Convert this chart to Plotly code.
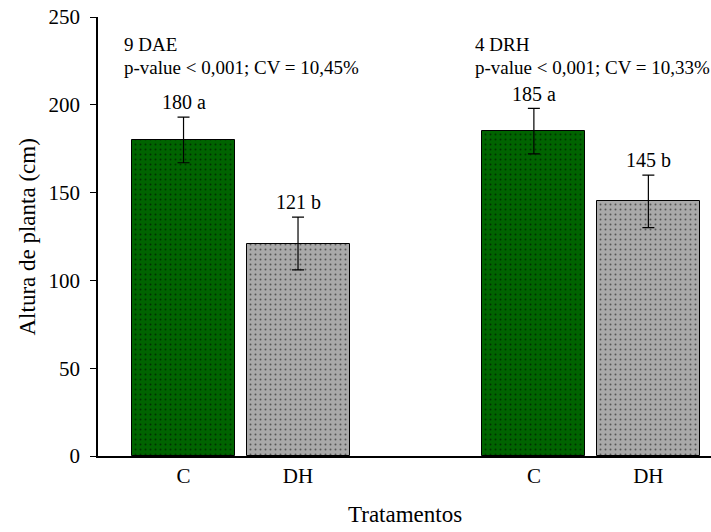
import plotly.graph_objects as go

# Plant height by treatment, two evaluation dates
groups = ["9 DAE", "4 DRH"]
treatments = ["C", "DH"]
heights = [180, 121, 185, 145]          # C, DH for each date
errors = [13, 15, 13, 15]
letters = ["a", "b", "a", "b"]
stats = ["p-value < 0,001; CV = 10,45%", "p-value < 0,001; CV = 10,33%"]
y_ticks = [0, 50, 100, 150, 200, 250]

fill_colors = ["#006400", "#a9a9a9"]
font_family = "Liberation Serif, Times New Roman, serif"

# x positions: two bars per group, wider gap between groups
group_gap = 2.06
xpos = []
for g in range(len(groups)):
    for t in range(len(treatments)):
        xpos.append(1 + g * (len(treatments) - 1 + group_gap) + t)

fig = go.Figure()
for t, name in enumerate(treatments):
    idx = [g * len(treatments) + t for g in range(len(groups))]
    fig.add_trace(go.Bar(
        x=[xpos[i] for i in idx],
        y=[heights[i] for i in idx],
        width=0.9,
        marker=dict(
            color=fill_colors[t],
            line=dict(color="black", width=1),
            pattern=dict(shape=".", fgcolor="black", bgcolor=fill_colors[t],
                         size=5, solidity=0.12, fillmode="overlay"),
        ),
        error_y=dict(type="data", array=[errors[i] for i in idx],
                     color="black", thickness=1.2, width=6),
        showlegend=False,
        name=name,
    ))

annotations = []
# value labels above the error bars
for i, (h, e, l) in enumerate(zip(heights, errors, letters)):
    annotations.append(dict(
        x=xpos[i], y=h + e + 1, text=f"{h} {l}", showarrow=False,
        xanchor="center", yanchor="bottom",
        font=dict(family=font_family, size=20, color="black"),
    ))
# group headers with statistics (two separate lines)
for g, (name, s) in enumerate(zip(groups, stats)):
    x0 = xpos[g * len(treatments)] - 0.535
    for text, yv in ((name, 234.6), (s, 221.5)):
        annotations.append(dict(
            x=x0, y=yv, text=text, showarrow=False,
            xanchor="left", yanchor="middle", align="left",
            font=dict(family=font_family, size=19, color="black"),
        ))
# axis titles
annotations.append(dict(
    x=0.5, xref="paper", y=-0.134, yref="paper", text="Tratamentos",
    showarrow=False, xanchor="center", yanchor="middle",
    font=dict(family=font_family, size=23, color="black"),
))
annotations.append(dict(
    x=-0.1142, xref="paper", y=0.5, yref="paper", text="Altura de planta (cm)",
    textangle=-90, showarrow=False, xanchor="center", yanchor="middle",
    font=dict(family=font_family, size=23, color="black"),
))

fig.update_layout(
    width=711, height=532,
    margin=dict(l=98, r=0, t=17, b=76),
    paper_bgcolor="white", plot_bgcolor="white",
    bargap=0,
    annotations=annotations,
    font=dict(family=font_family, color="black"),
)
fig.update_xaxes(
    range=[0.253, 5.607],
    tickmode="array", tickvals=xpos,
    ticktext=[treatments[i % len(treatments)] for i in range(len(xpos))],
    showline=True, linecolor="black", linewidth=1.5,
    ticks="", showgrid=False, zeroline=False,
    tickfont=dict(family=font_family, size=21, color="black"),
)
fig.update_yaxes(
    range=[0, 250], tickvals=y_ticks,
    showline=True, linecolor="black", linewidth=1.5,
    ticks="outside", ticklen=6, tickcolor="black", tickwidth=1,
    ticklabelstandoff=6,
    showgrid=False, zeroline=False,
    tickfont=dict(family=font_family, size=21, color="black"),
)

fig.write_html("out.html")
